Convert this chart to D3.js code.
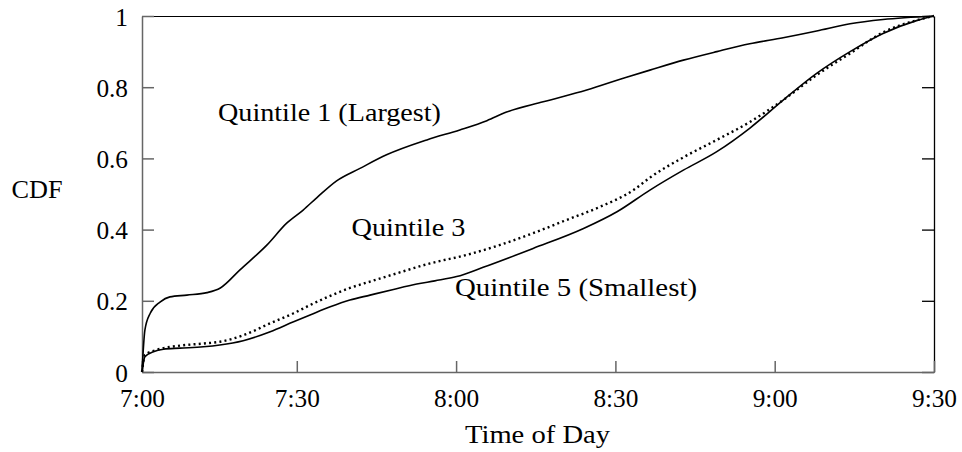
<!DOCTYPE html>
<html>
<head>
<meta charset="utf-8" />
<title>CDF by quintile</title>
<script src="https://cdn.jsdelivr.net/npm/d3@7"></script>
<style>
body { margin: 0; background: #fff; }
</style>
</head>
<body>
<div id="chart"></div>
<script>
// minutes after 7:00 -> cumulative share
const startMinute = 0.85;
const xTicks = [startMinute, 30, 60, 90, 120, 150];
const xTickLabels = ["7:00", "7:30", "8:00", "8:30", "9:00", "9:30"];
const yTicks = [0, 0.2, 0.4, 0.6, 0.8, 1];
const yTickLabels = ["0", "0.2", "0.4", "0.6", "0.8", "1"];

const q1 = [[0.85,0],[1.4,0.118],[2.4,0.165],[4.3,0.197],[6.1,0.211],[9.3,0.216],[13.1,0.223],[15.6,0.236],
  [19.3,0.287],[24.4,0.357],[28.1,0.418],[31.2,0.455],[33.8,0.49],[37.5,0.537],[41.9,0.572],[46.9,0.61],
  [54.5,0.652],[60.7,0.68],[65.8,0.706],[69.5,0.73],[76.4,0.759],[84.6,0.792],[92.1,0.828],[96.5,0.848],
  [102.8,0.876],[109.1,0.9],[115.3,0.922],[121.6,0.939],[127.9,0.958],[134.2,0.978],[140.4,0.99],[150,1]];
const q3 = [[0.85,0],[1.4,0.048],[3.6,0.062],[8,0.074],[12.4,0.08],[15.5,0.085],[19.9,0.103],[25,0.137],
  [29.4,0.165],[32.5,0.188],[36.3,0.214],[40,0.236],[43.8,0.254],[48.8,0.277],[55.1,0.305],[62,0.329],
  [68.3,0.357],[74.5,0.39],[80.8,0.427],[87.1,0.464],[93.4,0.511],[96.5,0.546],[102.8,0.603],[109.1,0.652],
  [115.4,0.703],[121.6,0.764],[127.9,0.834],[134.2,0.895],[140.4,0.954],[146.7,0.988],[150,1]];
const q5 = [[0.85,0],[1.4,0.043],[3,0.057],[4.9,0.064],[8,0.067],[12.4,0.071],[15.5,0.076],[19.9,0.088],
  [25,0.113],[29.4,0.141],[32.5,0.16],[36.3,0.183],[40,0.202],[43.8,0.216],[48.2,0.232],[52.6,0.247],
  [56,0.256],[60.1,0.268],[65.1,0.294],[74.5,0.347],[84,0.403],[90.3,0.45],[96.5,0.511],[102.8,0.567],
  [109.1,0.619],[115.4,0.686],[121.6,0.764],[127.9,0.839],[134.2,0.9],[140.4,0.951],[146.7,0.987],[150,1]];

const seriesNames = ["Quintile 1 (Largest)", "Quintile 3", "Quintile 5 (Smallest)"];
const seriesData = [q1, q3, q5];

const width = 962, height = 452;
const plotL = 142, plotR = 934, plotT = 16, plotB = 372;

const svg = d3.select("#chart").append("svg")
  .attr("width", width)
  .attr("height", height);

// find a serif face that is really installed: compare widths against the sans fallback
const sansW = svg.append("text").attr("font-size", 40).style("font-family", "sans-serif")
  .text("Quintile (Largest) 7:00");
const baseW = sansW.node().getComputedTextLength();
sansW.remove();
let face = "serif";
for (const f of ["Liberation Serif", "DejaVu Serif", "Times New Roman", "Noto Serif", "serif"]) {
  const t = svg.append("text").attr("font-size", 40).style("font-family", "'" + f + "', monospace")
    .text("Quintile (Largest) 7:00");
  const w = t.node().getComputedTextLength();
  t.remove();
  if (Math.abs(w - baseW) > 1) { face = f; break; }
}
const fontCss = "'" + face + "', serif";

// pick a font size so "7:00" is about 45px wide
const probe = svg.append("text").attr("font-size", 25).style("font-family", fontCss).text("7:00");
const probeW = probe.node().getComputedTextLength();
probe.remove();
const fs = Math.max(18, Math.min(26, 25 * 45 / probeW));

const x = d3.scaleLinear().domain([startMinute, 150]).range([plotL, plotR]);
const y = d3.scaleLinear().domain([0, 1]).range([plotB, plotT]);

// frame: top and right black
svg.append("line").attr("x1", plotL).attr("x2", plotR).attr("y1", plotT + 0.5).attr("y2", plotT + 0.5)
  .attr("stroke", "#000").attr("stroke-width", 1.2);

svg.append("g")
  .attr("transform", "translate(" + plotR + ",0)")
  .call(d3.axisRight(y).tickValues(yTicks).tickSizeInner(-12).tickSizeOuter(0).tickFormat(""))
  .call(g => g.selectAll("path,line").attr("stroke", "#000").attr("stroke-width", 1.3));

const yAxis = svg.append("g")
  .attr("transform", "translate(" + plotL + ",0)")
  .call(d3.axisLeft(y).tickValues(yTicks).tickSizeInner(-12).tickSizeOuter(0).tickPadding(14)
    .tickFormat((d, i) => yTickLabels[i]));
yAxis.selectAll("path,line").attr("stroke", "#666").attr("stroke-width", 1.5);
yAxis.selectAll("text").style("font-family", fontCss).attr("font-size", fs)
  .attr("dy", null).attr("dominant-baseline", "central");

const xAxis = svg.append("g")
  .attr("transform", "translate(0," + plotB + ")")
  .call(d3.axisBottom(x).tickValues(xTicks).tickSizeInner(-11).tickSizeOuter(0).tickPadding(0)
    .tickFormat((d, i) => xTickLabels[i]));
xAxis.selectAll("path,line").attr("stroke", "#666").attr("stroke-width", 1.5);
xAxis.selectAll("text").style("font-family", fontCss).attr("font-size", fs).attr("y", 35).attr("dy", null);

const line = d3.line()
  .x(d => x(d[0]))
  .y(d => y(d[1]))
  .curve(d3.curveMonotoneX);

const styles = [
  { dash: null, w: 1.6 },
  { dash: "2,3.2", w: 2.4 },
  { dash: null, w: 1.6 }
];

svg.append("g").selectAll("path")
  .data(seriesData)
  .join("path")
    .attr("d", line)
    .attr("fill", "none")
    .attr("stroke", "#000")
    .attr("stroke-width", (d, i) => styles[i].w)
    .attr("stroke-dasharray", (d, i) => styles[i].dash);

// label spots in data units, and target widths to mimic the wider TeX font
const labelSpots = [[15.16, 0.705, 223], [40.3, 0.382, 114], [59.8, 0.2135, 242]];
svg.append("g").selectAll("text")
  .data(seriesNames)
  .join("text")
    .attr("x", (d, i) => x(labelSpots[i][0]))
    .attr("y", (d, i) => y(labelSpots[i][1]))
    .style("font-family", fontCss)
    .attr("font-size", fs)
    .attr("textLength", (d, i) => labelSpots[i][2])
    .attr("lengthAdjust", "spacingAndGlyphs")
    .text(d => d);

svg.append("text")
  .attr("x", 11.5).attr("y", 198)
  .style("font-family", fontCss)
  .attr("font-size", fs)
  .attr("textLength", 51).attr("lengthAdjust", "spacingAndGlyphs")
  .text("CDF");

svg.append("text")
  .attr("x", 465).attr("y", 443)
  .style("font-family", fontCss)
  .attr("font-size", fs)
  .attr("textLength", 145).attr("lengthAdjust", "spacingAndGlyphs")
  .text("Time of Day");
</script>
</body>
</html>
